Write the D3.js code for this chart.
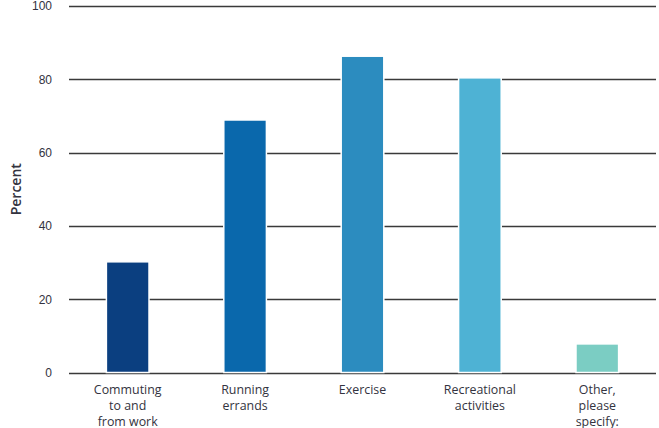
<!DOCTYPE html>
<html>
<head>
<meta charset="utf-8">
<script src="https://cdn.jsdelivr.net/npm/d3@7"></script>
<style>
  html, body { margin: 0; padding: 0; background: #fff; }
  svg { display: block; }
</style>
</head>
<body>
<svg id="chart" width="659" height="428"></svg>
<script>
// Share of respondents by purpose of trip
const categories = [
  ["Commuting", "to and", "from work"],
  ["Running", "errands"],
  ["Exercise"],
  ["Recreational", "activities"],
  ["Other,", "please", "specify:"]
];
const values = [30.2, 68.9, 86.3, 80.4, 7.8];
const colors = ["#0b3f80", "#0a68ac", "#2c8cbf", "#4eb2d4", "#7bcdc3"];
const yTicks = [0, 20, 40, 60, 80, 100];
const yLabel = "Percent";

const svg = d3.select("#chart");
const margin = { left: 69, right: 3, top: 6, bottom: 55.5 };
const W = 659, H = 428;

const x = d3.scaleBand()
  .domain(d3.range(categories.length))
  .range([margin.left, W - margin.right])
  .paddingInner(0.637)
  .paddingOuter(0.3185);

const y = d3.scaleLinear()
  .domain([0, 100])
  .range([H - margin.bottom, margin.top]);

// Horizontal grid lines
svg.append("g")
  .selectAll("line")
  .data(yTicks)
  .join("line")
  .attr("x1", margin.left)
  .attr("x2", W - margin.right)
  .attr("y1", d => Math.round(y(d)) + 0.5)
  .attr("y2", d => Math.round(y(d)) + 0.5)
  .attr("stroke", "#3a3a3a")
  .attr("stroke-width", 1.6);

// Y axis tick labels
const yAxis = d3.axisLeft(y).tickValues(yTicks).tickSize(0).tickPadding(0);
const gy = svg.append("g")
  .attr("transform", `translate(${margin.left - 17},0)`)
  .call(yAxis);
gy.select(".domain").remove();
gy.selectAll("text")
  .attr("font-family", "'Liberation Sans', Arial, sans-serif")
  .attr("font-size", 12)
  .attr("fill", "#333340");

// Bars
svg.append("g")
  .selectAll("rect")
  .data(values)
  .join("rect")
  .attr("x", (d, i) => x(i))
  .attr("width", x.bandwidth())
  .attr("y", d => y(d))
  .attr("height", d => y(0) - y(d))
  .attr("fill", (d, i) => colors[i])
  .attr("stroke", "#fff")
  .attr("stroke-width", 1.5);

// Category labels
const labels = svg.append("g")
  .attr("font-family", "'Open Sans', sans-serif")
  .attr("font-size", 12.4)
  .attr("font-weight", 500)
  .attr("fill", "#333340")
  .attr("text-anchor", "middle");
categories.forEach((lines, i) => {
  const t = labels.append("text")
    .attr("x", x(i) + x.bandwidth() / 2)
    .attr("y", y(0) + 21);
  lines.forEach((s, k) => {
    t.append("tspan")
      .attr("x", x(i) + x.bandwidth() / 2)
      .attr("dy", k === 0 ? 0 : 16)
      .text(s);
  });
});

// Y axis title
svg.append("text")
  .attr("transform", `translate(21,${(y(0) + y(100)) / 2}) rotate(-90)`)
  .attr("text-anchor", "middle")
  .attr("font-family", "'Open Sans', sans-serif")
  .attr("font-size", 14)
  .attr("font-weight", 600)
  .attr("fill", "#333340")
  .text(yLabel);
</script>
</body>
</html>
